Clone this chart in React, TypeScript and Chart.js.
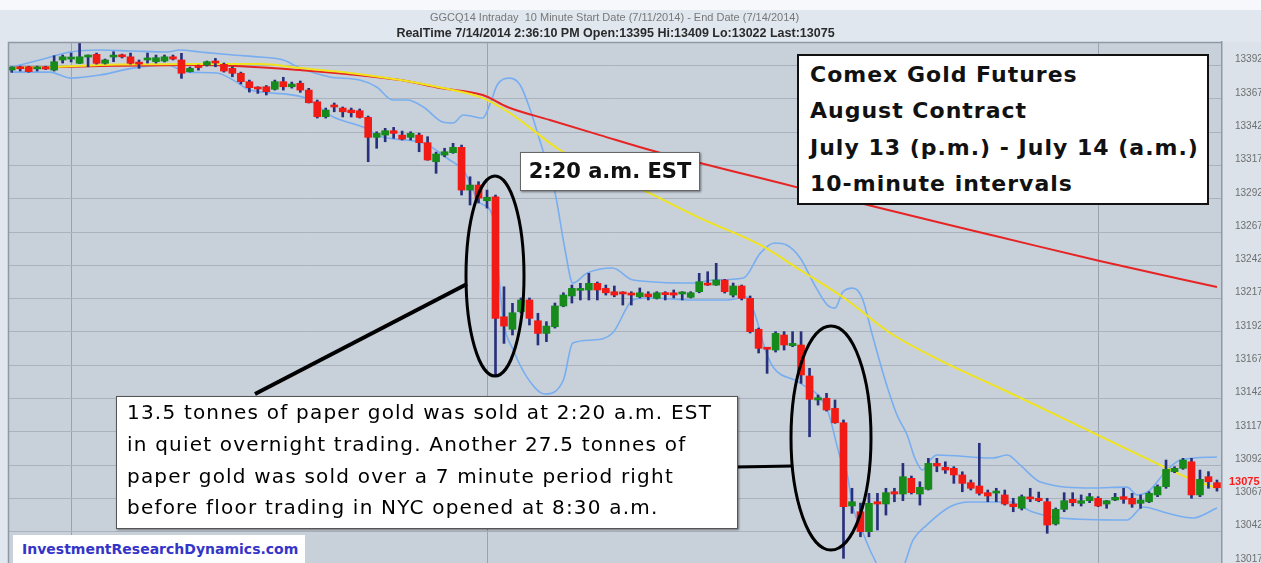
import React, { useEffect, useRef } from "react";
import { Chart, registerables } from "chart.js";

Chart.register(...registerables);

// ---- candle data (10-minute bars, index 0..142) ----
const opens = [
  13388.6, 13390.0, 13391.1, 13389.5, 13391.1, 13388.6, 13396.2, 13396.9, 13393.7, 13398.4,
  13400.4, 13393.7, 13398.4, 13399.9, 13398.6, 13393.9, 13396.2, 13394.9, 13395.4, 13398.6,
  13396.2, 13387.4, 13390.9, 13392.4, 13395.4, 13392.9, 13389.9, 13386.2, 13379.9, 13375.1,
  13376.1, 13374.2, 13379.9, 13376.1, 13378.7, 13373.6, 13364.8, 13353.6, 13361.1, 13360.1,
  13358.6, 13358.1, 13353.1, 13338.1, 13339.8, 13343.1, 13339.8, 13338.1, 13339.8, 13334.1,
  13319.8, 13324.8, 13326.6, 13330.6, 13298.5, 13302.3, 13290.5, 13293.5, 13203.4, 13194.0,
  13207.2, 13216.0, 13200.4, 13190.9, 13195.9, 13211.5, 13219.0, 13223.2, 13223.5, 13228.5,
  13224.7, 13222.2, 13221.2, 13221.0, 13218.4, 13220.5, 13217.2, 13220.5, 13221.4, 13220.5,
  13218.0, 13222.2, 13228.5, 13227.2, 13231.0, 13219.7, 13226.5, 13217.2, 13194.0, 13179.2,
  13178.4, 13189.7, 13181.7, 13182.2, 13158.9, 13140.9, 13142.2, 13134.6, 13123.8, 13061.3,
  13057.0, 13042.0, 13064.5, 13062.8, 13072.0, 13070.3, 13082.1, 13070.3, 13073.8, 13093.3,
  13090.4, 13089.6, 13084.6, 13078.8, 13076.3, 13071.3, 13071.0, 13069.6, 13062.8, 13059.6,
  13067.4, 13067.1, 13064.5, 13047.8, 13058.8, 13066.3, 13063.3, 13065.3, 13067.1, 13062.8,
  13065.8, 13068.3, 13067.1, 13063.3, 13064.5, 13069.6, 13075.8, 13087.1, 13089.6, 13094.5,
  13069.6, 13083.3, 13078.8,
];
const highs = [
  13391.1, 13391.6, 13391.5, 13391.6, 13391.5, 13399.4, 13399.9, 13401.4, 13408.7, 13400.0,
  13401.4, 13396.9, 13402.4, 13400.6, 13401.4, 13396.2, 13401.4, 13399.9, 13399.9, 13399.9,
  13401.2, 13390.9, 13392.4, 13395.4, 13397.4, 13393.9, 13391.1, 13387.1, 13381.1, 13376.1,
  13377.0, 13381.1, 13383.2, 13379.6, 13380.4, 13374.9, 13366.1, 13360.1, 13363.9, 13360.9,
  13360.1, 13359.4, 13354.1, 13342.3, 13344.9, 13345.6, 13342.8, 13342.3, 13341.3, 13338.6,
  13327.0, 13329.9, 13333.6, 13332.3, 13308.5, 13304.8, 13298.5, 13294.8, 13225.9, 13213.5,
  13217.5, 13217.5, 13206.0, 13199.7, 13213.7, 13221.4, 13227.2, 13228.5, 13236.0, 13229.5,
  13227.2, 13226.5, 13222.2, 13222.2, 13225.0, 13222.2, 13222.2, 13222.2, 13223.5, 13222.2,
  13222.2, 13236.0, 13237.2, 13243.5, 13231.5, 13228.7, 13227.2, 13219.0, 13194.9, 13179.7,
  13192.2, 13192.2, 13192.2, 13192.2, 13164.7, 13144.6, 13145.9, 13140.9, 13125.9, 13074.6,
  13063.5, 13070.8, 13070.8, 13074.6, 13074.6, 13093.3, 13083.8, 13079.5, 13097.1, 13097.1,
  13094.5, 13090.8, 13087.0, 13080.8, 13108.4, 13073.3, 13074.6, 13073.3, 13067.1, 13069.6,
  13074.6, 13071.8, 13067.1, 13059.8, 13071.3, 13071.3, 13069.6, 13070.8, 13068.3, 13065.5,
  13070.8, 13074.6, 13070.8, 13069.6, 13072.0, 13077.1, 13095.8, 13090.8, 13097.1, 13097.1,
  13088.3, 13087.1, 13080.8,
];
const lows = [
  13386.9, 13387.9, 13387.0, 13387.9, 13389.0, 13387.9, 13393.9, 13394.7, 13393.5, 13391.1,
  13393.1, 13393.1, 13394.9, 13397.7, 13393.1, 13389.9, 13393.9, 13393.9, 13394.7, 13396.2,
  13382.4, 13387.1, 13388.6, 13391.6, 13391.1, 13387.1, 13383.6, 13378.2, 13372.1, 13371.1,
  13369.9, 13373.6, 13373.6, 13375.1, 13371.9, 13363.9, 13352.6, 13352.6, 13357.3, 13353.4,
  13353.4, 13352.6, 13319.8, 13329.9, 13334.8, 13337.4, 13336.1, 13336.1, 13327.3, 13320.9,
  13311.1, 13323.5, 13326.1, 13294.8, 13287.3, 13288.8, 13285.0, 13159.7, 13183.4, 13189.7,
  13206.2, 13197.2, 13182.2, 13184.7, 13194.9, 13210.9, 13213.7, 13216.0, 13216.0, 13216.0,
  13219.7, 13218.4, 13212.2, 13212.2, 13217.5, 13216.0, 13216.7, 13216.0, 13217.5, 13216.0,
  13217.5, 13221.4, 13226.9, 13226.9, 13221.2, 13218.2, 13216.0, 13191.2, 13176.2, 13160.9,
  13176.9, 13178.4, 13180.9, 13153.4, 13113.3, 13137.1, 13132.6, 13123.4, 13022.0, 13055.8,
  13038.2, 13038.2, 13043.3, 13054.5, 13064.5, 13065.3, 13070.3, 13062.0, 13073.3, 13087.0,
  13085.8, 13078.3, 13072.0, 13073.3, 13069.5, 13064.5, 13064.5, 13062.0, 13057.0, 13058.3,
  13064.5, 13064.5, 13040.8, 13047.0, 13057.0, 13061.3, 13061.3, 13063.8, 13060.8, 13059.6,
  13065.3, 13063.3, 13060.3, 13059.6, 13063.8, 13068.3, 13074.6, 13086.3, 13088.8, 13067.1,
  13068.3, 13074.6, 13072.5,
];
const closes = [
  13390.9, 13389.6, 13387.4, 13389.8, 13389.4, 13394.9, 13398.6, 13398.4, 13398.6, 13399.9,
  13393.7, 13396.2, 13399.9, 13398.6, 13393.7, 13393.1, 13396.9, 13397.9, 13398.6, 13396.9,
  13386.2, 13389.9, 13390.5, 13394.9, 13393.9, 13387.9, 13386.2, 13379.9, 13375.4, 13374.4,
  13372.4, 13379.9, 13376.1, 13378.1, 13373.6, 13364.1, 13353.6, 13358.6, 13360.9, 13357.3,
  13356.6, 13353.1, 13338.1, 13341.1, 13343.1, 13341.1, 13336.8, 13341.1, 13334.1, 13321.1,
  13325.6, 13327.3, 13330.6, 13298.5, 13302.3, 13292.5, 13293.1, 13202.2, 13196.4, 13206.4,
  13216.0, 13202.2, 13190.9, 13196.4, 13211.5, 13219.7, 13224.7, 13223.8, 13228.5, 13223.5,
  13221.4, 13219.7, 13220.5, 13219.7, 13221.4, 13218.4, 13221.4, 13220.0, 13219.7, 13220.9,
  13221.4, 13229.7, 13227.2, 13231.0, 13222.2, 13226.5, 13217.2, 13192.2, 13179.7, 13179.0,
  13190.9, 13182.2, 13183.4, 13159.7, 13141.4, 13142.6, 13133.4, 13123.8, 13060.8, 13064.5,
  13042.0, 13063.3, 13062.8, 13071.3, 13070.3, 13083.3, 13071.3, 13075.3, 13093.3, 13091.3,
  13088.3, 13084.6, 13078.3, 13074.6, 13070.8, 13068.8, 13071.2, 13062.8, 13060.8, 13068.3,
  13066.6, 13065.3, 13047.0, 13058.8, 13065.3, 13063.8, 13065.3, 13068.3, 13061.3, 13065.3,
  13067.8, 13066.3, 13062.8, 13065.8, 13070.8, 13075.8, 13088.8, 13089.6, 13095.8, 13069.6,
  13081.3, 13079.5, 13075.0,
];

// ---- axis ticks ----
const priceTicks = [
  13017, 13042, 13067, 13092, 13117, 13142, 13167, 13192, 13217, 13242, 13267, 13292, 13317,
  13342, 13367, 13392,
];
const timeGridIdx = [7, 56, 128];
const lastPrice = 13075;

// ---- overlay lines (bar index, price) ----
const slowMaIdx = [0, 10.4, 22.2, 34.0, 45.8, 50.5, 55.5, 58.4, 63.4, 69.3, 75.2, 81.1, 88.2, 92.9, 102.3, 110.5, 116.4, 128.2, 142];
const slowMaVal = [13390.1, 13391.6, 13392.4, 13388.6, 13381.1, 13375.1, 13369.9, 13360.9, 13351.1, 13339.8, 13328.6, 13318.8, 13307.6, 13300.0, 13285.0, 13272.3, 13263.3, 13245.2, 13225.7];

const fastMaIdx = [0, 5.1, 10.4, 22.2, 29.3, 34.0, 39.9, 45.8, 50.8, 55.5, 58.7, 64.6, 69.3, 74.9, 81.1, 88.2, 92.9, 98.4, 103.5, 110.5, 116.4, 126.7, 134.1, 139.2, 142];
const fastMaVal = [13390.1, 13390.9, 13392.4, 13393.1, 13393.1, 13390.1, 13386.4, 13381.1, 13375.1, 13367.6, 13356.4, 13328.6, 13313.6, 13297.0, 13277.5, 13257.3, 13238.5, 13216.0, 13191.2, 13167.2, 13149.9, 13118.4, 13095.8, 13080.8, 13074.8];

const upperBandIdx = [0, 3.3, 6.9, 10.4, 14.3, 18.3, 19.8, 22.2, 26.1, 29.3, 32.0, 34.0, 37.5, 41.0, 43.0, 44.9, 46.6, 48.5, 50.8, 52.0, 53.2, 55.5, 56.4, 57.2, 58.7, 59.9, 61.1, 62.2, 64.0, 65.2, 66.1, 67.8, 70.8, 73.2, 80.3, 82.6, 86.2, 88.2, 89.9, 91.3, 92.9, 94.6, 96.1, 97.0, 97.9, 99.1, 100.2, 101.4, 102.9, 104.3, 105.5, 106.4, 107.3, 108.2, 109.0, 115.6, 117.3, 118.8, 121.2, 127.4, 131.4, 132.6, 134.1, 136.1, 137.7, 142];
const upperBandVal = [13390.9, 13396.2, 13402.2, 13403.7, 13402.9, 13402.2, 13403.7, 13402.2, 13399.9, 13398.4, 13396.2, 13390.1, 13383.4, 13381.1, 13375.9, 13366.1, 13366.1, 13360.9, 13349.6, 13348.9, 13354.9, 13352.6, 13363.9, 13377.4, 13382.6, 13377.4, 13358.6, 13336.1, 13297.0, 13253.5, 13228.7, 13236.2, 13240.0, 13231.0, 13228.7, 13231.0, 13232.5, 13251.2, 13258.8, 13257.3, 13247.5, 13227.2, 13212.2, 13209.9, 13221.9, 13224.9, 13217.5, 13189.7, 13155.9, 13129.6, 13114.6, 13097.3, 13088.3, 13095.8, 13099.6, 13097.3, 13099.6, 13092.1, 13079.3, 13074.8, 13075.5, 13069.6, 13073.3, 13088.3, 13095.8, 13098.1];

const lowerBandIdx = [0, 4.5, 6.9, 10.4, 14.3, 18.3, 20.7, 24.2, 26.1, 28.1, 34.3, 37.9, 41.4, 43.7, 48.5, 51.6, 53.2, 55.2, 56.7, 57.9, 59.1, 60.7, 62.8, 65.0, 66.1, 68.5, 70.8, 73.2, 74.9, 80.3, 84.3, 86.6, 87.6, 88.8, 89.7, 92.9, 96.1, 97.6, 98.4, 99.1, 100.3, 101.4, 102.9, 104.7, 106.2, 107.8, 110.5, 112.9, 117.6, 120.3, 123.5, 131.4, 133.3, 136.1, 139.2, 142];
const lowerBandVal = [13387.1, 13387.1, 13382.6, 13384.9, 13390.1, 13392.4, 13387.1, 13386.4, 13381.1, 13373.6, 13368.4, 13353.4, 13345.8, 13338.3, 13333.8, 13321.1, 13313.6, 13288.8, 13278.3, 13200.9, 13178.4, 13158.1, 13145.4, 13155.9, 13183.7, 13185.9, 13191.2, 13216.0, 13217.5, 13216.0, 13216.0, 13218.2, 13204.7, 13178.4, 13165.7, 13153.6, 13133.4, 13098.1, 13086.1, 13060.6, 13041.0, 13024.5, 13009.5, 13011.7, 13035.8, 13047.0, 13060.6, 13064.3, 13064.3, 13056.8, 13052.3, 13050.8, 13060.6, 13056.0, 13052.3, 13059.8];

// ---- styling ----
const RED_BODY = "#f21a14";
const GREEN_BODY = "#178a1c";
const WICK = "#27307a";
const BAND = "#78aef0";
const FAST_MA = "#f0e41e";
const SLOW_MA = "#e62424";
const PLOT_BG = "#c8d0da";
const AXIS_BG = "#dbe2ea";
const FRAME_BG = "#e0e7ef";

const toPoints = (xs: number[], ys: number[]) => xs.map((x, i) => ({ x, y: ys[i] }));

const backgroundPlugin = {
  id: "bgPlugin",
  beforeDraw(chart: any) {
    const { ctx, chartArea: a, width, height } = chart;
    ctx.save();
    ctx.fillStyle = FRAME_BG;
    ctx.fillRect(0, 0, width, height);
    ctx.fillStyle = "#f6f8fb";
    ctx.fillRect(0, 0, width, 10);
    ctx.fillStyle = AXIS_BG;
    ctx.fillRect(a.right, a.top, width - a.right, height - a.top);
    ctx.fillStyle = PLOT_BG;
    ctx.fillRect(a.left, a.top, a.right - a.left, a.bottom - a.top);
    ctx.restore();
  },
  afterDraw(chart: any) {
    const { ctx, chartArea: a } = chart;
    const y = chart.scales.y;
    ctx.save();
    // frame
    ctx.strokeStyle = "#8f99a6";
    ctx.lineWidth = 1.5;
    ctx.beginPath();
    ctx.moveTo(a.left + 0.5, a.bottom);
    ctx.lineTo(a.left + 0.5, a.top + 0.5);
    ctx.lineTo(a.right, a.top + 0.5);
    ctx.stroke();
    // ellipses and connectors
    ctx.strokeStyle = "#000";
    ctx.lineWidth = 3;
    ctx.beginPath();
    ctx.ellipse(495, 276, 29, 100, 0, 0, Math.PI * 2);
    ctx.stroke();
    ctx.beginPath();
    ctx.ellipse(831, 438, 40, 112, 0, 0, Math.PI * 2);
    ctx.stroke();
    ctx.lineWidth = 4;
    ctx.beginPath();
    ctx.moveTo(255, 394);
    ctx.lineTo(467, 284);
    ctx.stroke();
    ctx.lineWidth = 3;
    ctx.beginPath();
    ctx.moveTo(737, 467);
    ctx.lineTo(792, 466);
    ctx.stroke();
    // last price label
    ctx.fillStyle = "#ff1a1a";
    ctx.font = "bold 11px 'Liberation Sans', Arial, sans-serif";
    ctx.textBaseline = "middle";
    ctx.textAlign = "left";
    ctx.fillText(String(lastPrice), 1229, y.getPixelForValue(lastPrice) - 6);
    ctx.restore();
  },
};

export default function App() {
  const canvasRef = useRef<HTMLCanvasElement | null>(null);

  useEffect(() => {
    if (!canvasRef.current) return;
    const wickData = lows.map((l, i) => ({ x: i, y: [l, highs[i]] }));
    const bodyData = opens.map((o, i) => ({ x: i, y: [o, closes[i]] }));
    const bodyColors = opens.map((o, i) => (closes[i] < o ? RED_BODY : GREEN_BODY));

    const chart = new Chart(canvasRef.current, {
      type: "bar",
      data: {
        datasets: [
          {
            type: "line",
            label: "Upper band",
            data: toPoints(upperBandIdx, upperBandVal),
            borderColor: BAND,
            borderWidth: 1.6,
            pointRadius: 0,
            cubicInterpolationMode: "monotone",
            order: 6,
          } as any,
          {
            type: "line",
            label: "Lower band",
            data: toPoints(lowerBandIdx, lowerBandVal),
            borderColor: BAND,
            borderWidth: 1.6,
            pointRadius: 0,
            cubicInterpolationMode: "monotone",
            order: 6,
          } as any,
          {
            type: "line",
            label: "Slow MA",
            data: toPoints(slowMaIdx, slowMaVal),
            borderColor: SLOW_MA,
            borderWidth: 2,
            pointRadius: 0,
            cubicInterpolationMode: "monotone",
            order: 5,
          } as any,
          {
            type: "line",
            label: "Fast MA",
            data: toPoints(fastMaIdx, fastMaVal),
            borderColor: FAST_MA,
            borderWidth: 2,
            pointRadius: 0,
            cubicInterpolationMode: "monotone",
            order: 4,
          } as any,
          {
            type: "bar",
            label: "Range",
            data: wickData,
            backgroundColor: WICK,
            barThickness: 2,
            grouped: false,
            order: 2,
          } as any,
          {
            type: "bar",
            label: "Body",
            data: bodyData,
            backgroundColor: bodyColors,
            barThickness: 7,
            minBarLength: 2,
            grouped: false,
            order: 1,
          } as any,
        ],
      },
      options: {
        responsive: false,
        maintainAspectRatio: false,
        animation: false,
        devicePixelRatio: 1,
        layout: { padding: { left: 8, top: 42, right: 0, bottom: 0 } },
        plugins: { legend: { display: false }, tooltip: { enabled: false } },
        scales: {
          x: {
            type: "linear",
            min: -0.436,
            max: 142.594,
            offset: false,
            grid: { color: "#9aa4b1", drawTicks: false, offset: false, lineWidth: 1 },
            border: { display: false },
            ticks: { display: false },
            afterBuildTicks: (s: any) => {
              s.ticks = timeGridIdx.map((v) => ({ value: v }));
            },
            afterFit: (s: any) => {
              s.height = 0;
              s.paddingLeft = 0;
              s.paddingRight = 0;
            },
          },
          y: {
            type: "linear",
            position: "right",
            min: 13018.5,
            max: 13409.7,
            grid: { color: "#a9b2bd", drawTicks: false, lineWidth: 1 },
            border: { display: true, color: "#8f99a6", width: 1.5 },
            ticks: {
              padding: 13,
              labelOffset: -6,
              autoSkip: false,
              color: "#6e6e6e",
              font: { family: "'Liberation Sans', Arial, sans-serif", size: 10 },
              callback: (v: any) => String(v),
            },
            afterBuildTicks: (s: any) => {
              s.ticks = priceTicks.map((v) => ({ value: v }));
            },
            afterFit: (s: any) => {
              s.width = 39;
              s.paddingTop = 0;
              s.paddingBottom = 0;
            },
          },
        },
      } as any,
      plugins: [backgroundPlugin],
    });
    return () => chart.destroy();
  }, []);

  const comic = "'DejaVu Sans', 'Noto Sans', sans-serif";

  return (
    <div style={{ position: "fixed", left: 0, top: 0, width: 1261, height: 563, overflow: "hidden" }}>
      <canvas ref={canvasRef} width={1261} height={563} style={{ position: "absolute", left: 0, top: 0 }} />
      <div
        style={{
          position: "absolute", left: 0, top: 10, width: 1229, textAlign: "center", whiteSpace: "pre",
          font: "11px 'Liberation Sans', Arial, sans-serif", color: "#777", lineHeight: "14px",
        }}
      >
        {"GGCQ14 Intraday  10 Minute Start Date (7/11/2014) - End Date (7/14/2014)"}
      </div>
      <div
        style={{
          position: "absolute", left: 0, top: 25, width: 1231, textAlign: "center", whiteSpace: "pre",
          font: "bold 12.5px 'Liberation Sans', Arial, sans-serif", color: "#2a2a2a", lineHeight: "16px",
        }}
      >
        {"RealTime 7/14/2014 2:36:10 PM Open:13395 Hi:13409 Lo:13022 Last:13075"}
      </div>

      <div
        style={{
          position: "absolute", left: 797, top: 54, width: 412, height: 151, boxSizing: "border-box",
          background: "#fff", border: "2.5px solid #111", padding: "1px 0 0 11px",
          fontFamily: comic, fontSize: 22, fontWeight: 600, letterSpacing: "1px", lineHeight: "36.3px",
          color: "#111", whiteSpace: "pre",
        }}
      >
        <div>Comex Gold Futures</div>
        <div>August Contract</div>
        <div>July 13 (p.m.) - July 14 (a.m.)</div>
        <div>10-minute intervals</div>
      </div>

      <div
        style={{
          position: "absolute", left: 520, top: 152, width: 180, height: 39, boxSizing: "border-box",
          background: "#fff", border: "1px solid #666", boxShadow: "1px 1px 2px rgba(0,0,0,0.45)",
          fontFamily: comic, fontSize: 21, fontWeight: 600, lineHeight: "37px", color: "#111", textAlign: "center",
        }}
      >
        2:20 a.m. EST
      </div>

      <div
        style={{
          position: "absolute", left: 116, top: 396, width: 622, height: 133, boxSizing: "border-box",
          background: "#fff", border: "1px solid #555", boxShadow: "1px 1px 2px rgba(0,0,0,0.45)",
          padding: "0 0 0 10px", fontFamily: comic, fontSize: 20, letterSpacing: "1.2px", lineHeight: "31.8px",
          color: "#000", whiteSpace: "pre",
        }}
      >
        <div>13.5 tonnes of paper gold was sold at 2:20 a.m. EST</div>
        <div>in quiet overnight trading. Another 27.5 tonnes of</div>
        <div>paper gold was sold over a 7 minute period right</div>
        <div>before floor trading in NYC opened at 8:30 a.m.</div>
      </div>

      <div
        style={{
          position: "absolute", left: 13, top: 535, width: 292, height: 30, boxSizing: "border-box",
          background: "#fff", padding: "4px 0 0 9px", fontFamily: comic, fontSize: 14, fontWeight: 700,
          color: "#3434c8", whiteSpace: "pre", lineHeight: "20px",
        }}
      >
        InvestmentResearchDynamics.com
      </div>
    </div>
  );
}
